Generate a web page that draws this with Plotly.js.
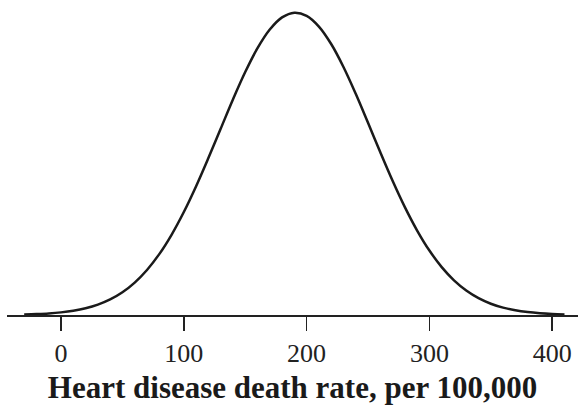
<!DOCTYPE html>
<html>
<head>
<meta charset="utf-8">
<script src="https://cdn.plot.ly/plotly-3.0.1.min.js"></script>
<style>html,body{margin:0;padding:0;background:#fff;}#chart{width:578px;height:405px;}</style>
</head>
<body>
<div id="chart"></div>
<script>
// Heart disease death rate (per 100,000) and relative curve height
const rates = [-30,-20,-10,0,10,20,30,40,50,60,70,80,90,100,110,120,130,140,150,160,170,180,190,
  200,210,220,230,240,250,260,270,280,290,300,310,320,330,340,350,360,370,380,390,400,410];
const heights = [0.0017,0.0031,0.0052,0.0087,0.0141,0.0223,0.0343,0.0515,0.0753,0.1073,0.149,0.2013,0.2653,0.3406,0.426,0.519,0.616,0.713,0.8036,0.8825,0.9442,0.9844,1.0,
  0.9895,0.9541,0.8964,0.8205,0.7318,0.6359,0.5383,0.4441,0.3569,0.2795,0.2132,0.1585,0.1148,0.081,0.0557,0.0373,0.0243,0.0155,0.0096,0.0058,0.0034,0.002];
const tickVals = [0,100,200,300,400];
const tickText = ['0','100','200','300','400'];
const xTitle = 'Heart disease death rate, per 100,000';

Plotly.newPlot('chart', [{
  x: rates, y: heights, type: 'scatter', mode: 'lines',
  line: {color: '#1a1a1a', width: 2.5, shape: 'spline', smoothing: 1},
  hoverinfo: 'skip'
}], {
  width: 578, height: 405,
  margin: {l: 7, r: 0, t: 0, b: 90},
  paper_bgcolor: '#fff', plot_bgcolor: '#fff',
  showlegend: false,
  xaxis: {
    range: [-44, 421], tickvals: tickVals, ticktext: tickText,
    ticks: 'outside', ticklen: 14, tickwidth: 1.5, tickcolor: '#222',
    showline: true, linecolor: '#222', linewidth: 1.5,
    showgrid: false, zeroline: false,
    tickfont: {family: 'Liberation Serif, Times New Roman, serif', size: 26, color: '#222'},
    title: {text: '<b>' + xTitle + '</b>', standoff: 11,
      font: {family: 'Liberation Serif, Times New Roman, serif', size: 31, color: '#1a1a1a'}}
  },
  yaxis: {visible: false, range: [0, 1.042], fixedrange: true}
}, {displayModeBar: false, staticPlot: true});
</script>
</body>
</html>
